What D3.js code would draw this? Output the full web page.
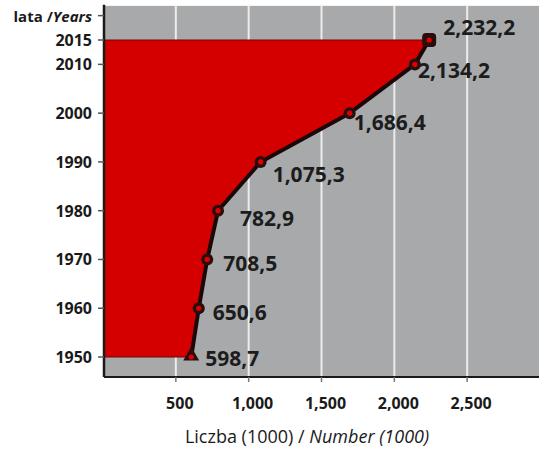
<!DOCTYPE html>
<html><head><meta charset="utf-8">
<script src="https://cdn.jsdelivr.net/npm/d3@7"></script>
<style>
html,body{margin:0;padding:0;background:#fff;}
svg{display:block;font-family:"Open Sans",sans-serif;}
</style></head>
<body>
<svg id="c" width="539" height="457"></svg>
<script>
const years = [1950, 1960, 1970, 1980, 1990, 2000, 2010, 2015];
const values = [598.7, 650.6, 708.5, 782.9, 1075.3, 1686.4, 2134.2, 2232.2];
const valueLabels = ["598,7", "650,6", "708,5", "782,9", "1,075,3", "1,686,4", "2,134,2", "2,232,2"];
const yTicks = [1950, 1960, 1970, 1980, 1990, 2000, 2010, 2015];
const xTicks = [500, 1000, 1500, 2000, 2500];
const xTickLabels = ["500", "1,000", "1,500", "2,000", "2,500"];
const yTitleYear = 2020;

const data = years.map((yr, i) => ({year: yr, value: values[i], label: valueLabels[i]}));

const svg = d3.select("#c");
const x = d3.scaleLinear().domain([0, 3000]).range([104, 541]);
const y = d3.scaleLinear().domain([1950, 2015]).range([357, 40]);
const plotTop = y(2022), plotBottom = y(1945.9);

// background
svg.append("rect").attr("x", x(0)).attr("y", plotTop)
  .attr("width", 539 - x(0)).attr("height", plotBottom - plotTop)
  .attr("fill", "#a8a9ab");

// gridlines
svg.append("g").selectAll("line").data(xTicks).join("line")
  .attr("x1", d => x(d) - 1).attr("x2", d => x(d) - 1)
  .attr("y1", plotTop).attr("y2", plotBottom)
  .attr("stroke", "#ececec").attr("stroke-width", 2);

// area
const area = d3.area()
  .y(d => y(d.year)).x0(x(0)).x1(d => x(d.value));
svg.append("path").datum(data).attr("d", area)
  .attr("fill", "#d40000").attr("stroke", "#7a0000").attr("stroke-width", 1);

// line
const line = d3.line().x(d => x(d.value)).y(d => y(d.year));
svg.append("path").datum(data).attr("d", line)
  .attr("fill", "none").attr("stroke", "#1c0808").attr("stroke-width", 4)
  .attr("stroke-linejoin", "round");

// markers
const mk = svg.append("g");
data.forEach((d, i) => {
  const cx = x(d.value), cy = y(d.year);
  if (i === data.length - 1) {
    mk.append("rect").attr("x", cx - 7).attr("y", cy - 7).attr("width", 14).attr("height", 14)
      .attr("rx", 4).attr("fill", "#2a0d0d");
  } else if (i === 0) {
    mk.append("path").attr("d", d3.symbol(d3.symbolTriangle, 110)())
      .attr("transform", `translate(${cx},${cy - 1})`).attr("fill", "#2a0d0d");
  } else {
    mk.append("circle").attr("cx", cx).attr("cy", cy).attr("r", 6).attr("fill", "#2a0d0d");
  }
  mk.append("circle").attr("cx", cx).attr("cy", cy).attr("r", 2.6).attr("fill", "#e00000");
});

// value labels
const labelNudge = [[14, 9], [14, 12], [16, 12], [22, 15], [12, 20], [4, 17], [3, 14], [14, -5]];
svg.append("g").selectAll("text").data(data).join("text")
  .attr("x", (d, i) => x(d.value) + labelNudge[i][0])
  .attr("y", (d, i) => y(d.year) + labelNudge[i][1])
  .attr("font-size", 21).attr("font-weight", 700).attr("fill", "#1c1c1c")
  .text(d => d.label);

// axes lines
svg.append("line").attr("x1", x(0)).attr("x2", x(0)).attr("y1", plotTop - 1).attr("y2", plotBottom)
  .attr("stroke", "#1a1a1a").attr("stroke-width", 2.5);
svg.append("line").attr("x1", x(0)).attr("x2", 539).attr("y1", plotBottom).attr("y2", plotBottom)
  .attr("stroke", "#1a1a1a").attr("stroke-width", 2);

// y ticks
const yt = svg.append("g");
yTicks.forEach(t => {
  yt.append("line").attr("x1", x(0) - 6).attr("x2", x(0)).attr("y1", y(t)).attr("y2", y(t))
    .attr("stroke", "#555").attr("stroke-width", 1.5);
  yt.append("text").attr("x", 92).attr("y", y(t) + 6).attr("text-anchor", "end")
    .attr("font-size", 16).attr("font-weight", 700).attr("fill", "#1a1a1a").text(t);
});
yt.append("line").attr("x1", x(0) - 6).attr("x2", x(0)).attr("y1", y(yTitleYear)).attr("y2", y(yTitleYear))
  .attr("stroke", "#555").attr("stroke-width", 1.5);
const yTitle = yt.append("text").attr("x", 92).attr("y", y(yTitleYear) + 6).attr("text-anchor", "end")
  .attr("font-size", 15).attr("font-weight", 700).attr("fill", "#1a1a1a");
yTitle.append("tspan").text("lata /");
yTitle.append("tspan").attr("font-style", "italic").text("Years");

// x ticks
const xt = svg.append("g");
xTicks.forEach((t, i) => {
  xt.append("line").attr("x1", x(t) - 1).attr("x2", x(t) - 1).attr("y1", plotBottom).attr("y2", plotBottom + 5)
    .attr("stroke", "#777").attr("stroke-width", 1.5);
  xt.append("text").attr("x", x(t) + 3).attr("y", 409).attr("text-anchor", "middle")
    .attr("font-size", 16).attr("font-weight", 700).attr("fill", "#1a1a1a").text(xTickLabels[i]);
});

// x title
const xTitle = svg.append("text").attr("x", 307).attr("y", 443).attr("text-anchor", "middle")
  .attr("font-size", 18).attr("fill", "#1a1a1a");
xTitle.append("tspan").text("Liczba (1000) / ");
xTitle.append("tspan").attr("font-style", "italic").text("Number (1000)");
</script>
</body></html>
